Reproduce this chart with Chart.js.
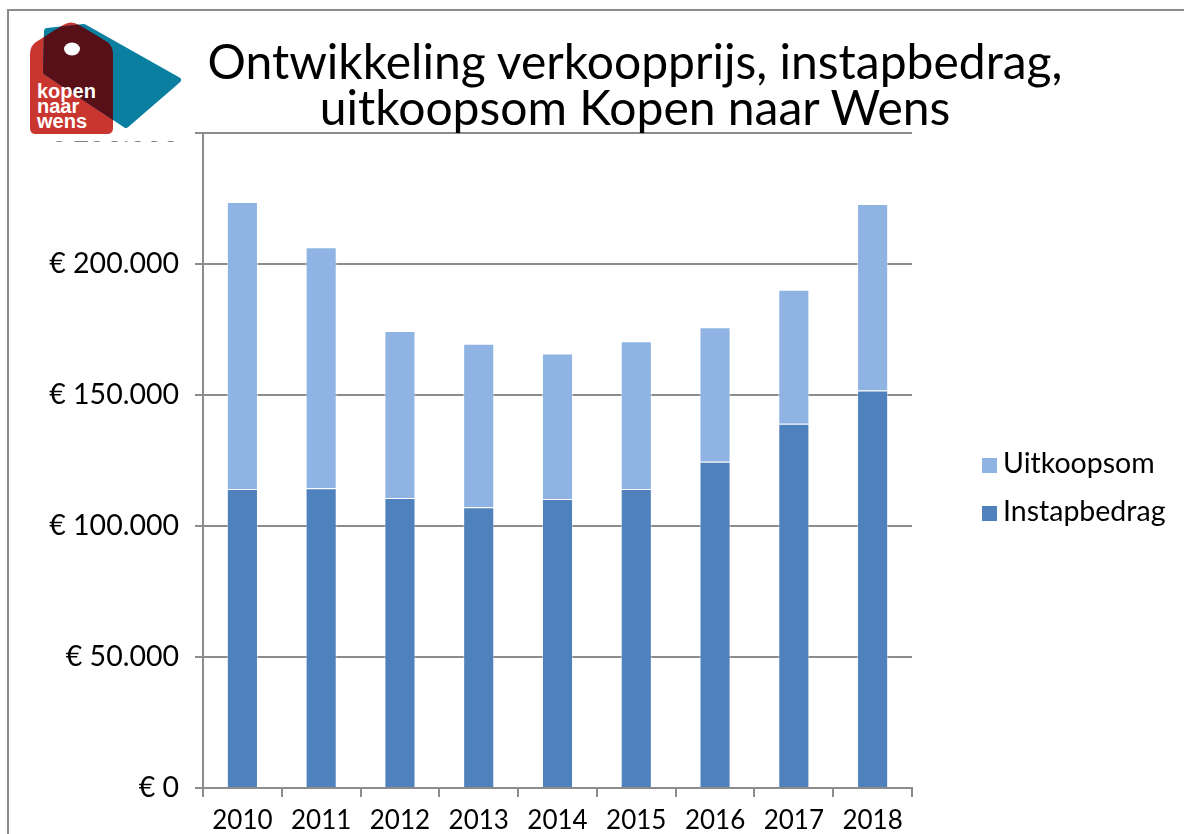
<!DOCTYPE html>
<html>
<head>
<meta charset="utf-8">
<script src="https://cdn.jsdelivr.net/npm/chart.js@4.4.1/dist/chart.umd.min.js"></script>
<style>
    html, body { margin: 0; padding: 0; background: #fff; }
    #wrap { position: relative; width: 1184px; height: 834px; overflow: hidden; background: #fff; }
    #frame {
        position: absolute; left: 7px; top: 9px; right: -10px; bottom: -10px;
        border-left: 2px solid #8c8c8c; border-top: 2px solid #8c8c8c;
    }
    #flowChart { position: absolute; left: 0; top: 0; }
    #title {
        position: absolute; left: 0; top: 38px; width: 1270px;
        text-align: center; font-family: Lato, sans-serif; font-size: 48px;
        line-height: 46px; color: #000;
    }
    #logo { position: absolute; left: 0; top: 0; }
    .legend-item {
        position: absolute; left: 982px; height: 28px;
        font-family: Lato, sans-serif; font-size: 28.5px; line-height: 28px; color: #000;
        white-space: nowrap;
    }
    .legend-item span {
        position: absolute; left: 0; top: 10px; width: 15px; height: 15px;
    }
    .legend-item b { font-weight: normal; position: absolute; left: 21px; top: 0; }
</style>
</head>
<body>
<div id="wrap">
    <div id="frame"></div>
    <canvas id="flowChart" width="1184" height="834"></canvas>
    <svg id="logo" width="200" height="150" viewBox="0 0 200 150">
        <defs>
            <clipPath id="redClip">
                <path d="M30,54 Q30,46 36,42 L63,25 Q71,20 79,25 L107,42 Q113,46 113,54 L113,128 Q113,134 107,134 L36,134 Q30,134 30,128 Z"/>
            </clipPath>
        </defs>
        <rect x="18" y="18" width="168" height="123.5" fill="#fff"/>
        <path d="M30,54 Q30,46 36,42 L63,25 Q71,20 79,25 L107,42 Q113,46 113,54 L113,128 Q113,134 107,134 L36,134 Q30,134 30,128 Z" fill="#c9352f"/>
        <polygon points="47,31 84,27 178,80 126,125 46,72" fill="#0a7fa0" stroke="#0a7fa0" stroke-width="6" stroke-linejoin="round"/>
        <polygon points="47,31 84,27 178,80 126,125 46,72" fill="#570f18" stroke="#570f18" stroke-width="6" stroke-linejoin="round" clip-path="url(#redClip)"/>
        <ellipse cx="72" cy="49" rx="8" ry="6.5" fill="#fff"/>
        <g font-family="'Liberation Sans', Arial, sans-serif" font-weight="bold" font-size="20" fill="#fff">
            <text x="37" y="98">kopen</text>
            <text x="37" y="113">naar</text>
            <text x="37" y="128">wens</text>
        </g>
    </svg>
    <div id="title">Ontwikkeling verkoopprijs, instapbedrag,<br>uitkoopsom Kopen naar Wens</div>
    <div id="legend"></div>
</div>
<script>
// Data
const years = ['2010', '2011', '2012', '2013', '2014', '2015', '2016', '2017', '2018'];
const instapbedrag = [114100, 114400, 110700, 107200, 110300, 114100, 124500, 139000, 151700];
const uitkoopsom = [109600, 92000, 63700, 62400, 55500, 56400, 51400, 51200, 71200];
const yMax = 250000;
const yStep = 50000;

const seriesNames = ['Instapbedrag', 'Uitkoopsom'];
const seriesColors = ['#4f81bd', '#8fb4e3'];

const gridColor = '#8c8c8c';

// Euro format with dots as thousands separator
function formatEuro(v) {
    const s = String(Math.round(v)).replace(/\B(?=(\d{3})+(?!\d))/g, '.');
    return '€ ' + s;
}

const ctx = document.getElementById('flowChart').getContext('2d');

const chart = new Chart(ctx, {
    type: 'bar',
    data: {
        labels: years,
        datasets: [
            {
                label: seriesNames[0],
                data: instapbedrag,
                backgroundColor: seriesColors[0],
                borderColor: 'rgba(255,255,255,0.45)',
                borderWidth: 1,
                barPercentage: 0.395,
                categoryPercentage: 1
            },
            {
                label: seriesNames[1],
                data: uitkoopsom,
                backgroundColor: seriesColors[1],
                borderColor: 'rgba(255,255,255,0.55)',
                borderWidth: 1,
                barPercentage: 0.395,
                categoryPercentage: 1
            }
        ]
    },
    options: {
        responsive: false,
        animation: false,
        layout: { padding: { top: 133, right: 272, bottom: 0, left: 0 } },
        plugins: {
            legend: { display: false },
            tooltip: { enabled: false }
        },
        scales: {
            x: {
                stacked: true,
                grid: {
                    offset: true,
                    drawOnChartArea: false,
                    drawTicks: true,
                    tickLength: 9,
                    color: gridColor,
                    lineWidth: 2
                },
                border: { color: gridColor, width: 2 },
                ticks: { font: { family: 'Lato', size: 26 }, color: '#000', padding: 8, maxRotation: 0 },
                afterFit(scale) { scale.height = 834 - 788; }
            },
            y: {
                stacked: true,
                min: 0,
                max: yMax,
                ticks: {
                    stepSize: yStep,
                    font: { family: 'Lato', size: 28.5 },
                    color: '#000',
                    padding: 16,
                    callback: v => formatEuro(v)
                },
                grid: { color: gridColor, lineWidth: 2, tickLength: 8 },
                border: { color: gridColor, width: 2 },
                afterFit(scale) { scale.width = 203; }
            }
        }
    }
});

// Legend (top item first, like the stacked order)
const legend = document.getElementById('legend');
const legendTops = [496, 448];
chart.data.datasets.forEach((ds, i) => {
    const item = document.createElement('div');
    item.className = 'legend-item';
    item.style.top = legendTops[i] + 'px';
    item.innerHTML = `<span style="background:${ds.backgroundColor}"></span><b>${ds.label}</b>`;
    legend.appendChild(item);
});
</script>
</body>
</html>
